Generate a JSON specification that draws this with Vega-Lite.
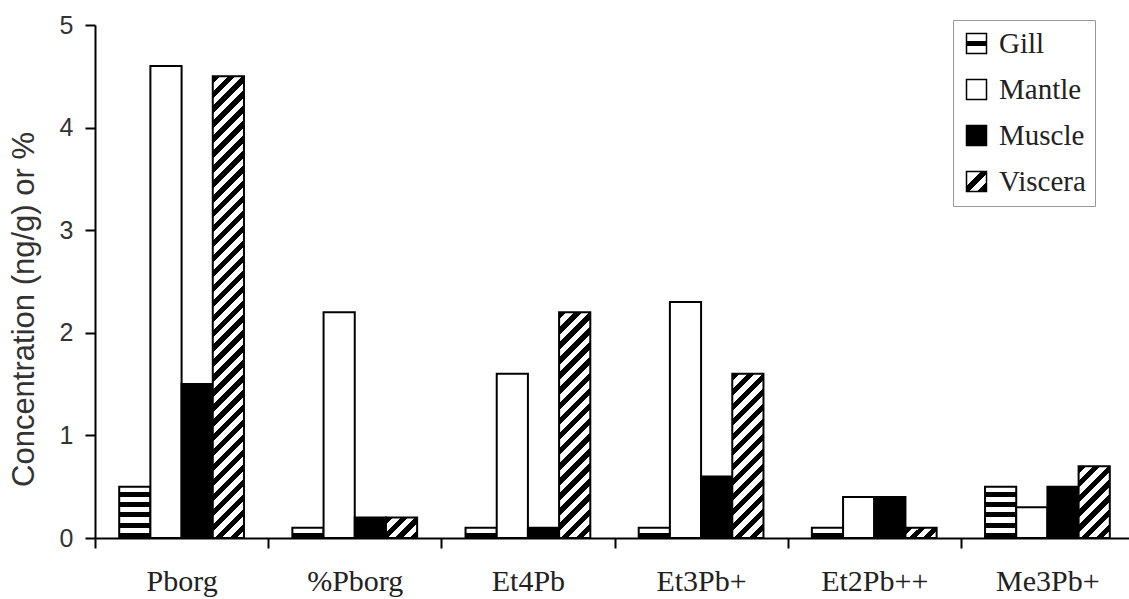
{
  "$schema": "https://vega.github.io/schema/vega-lite/v6.json",
  "width": 1034,
  "height": 513,
  "autosize": {"type": "none"},
  "padding": {"left": 95, "top": 25, "right": 0, "bottom": 61},
  "background": "white",
  "config": {"view": {"stroke": null}},
  "data": {
    "values": [
      {"compound": "Pborg", "tissue": "Gill", "value": 0.5},
      {"compound": "Pborg", "tissue": "Mantle", "value": 4.6},
      {"compound": "Pborg", "tissue": "Muscle", "value": 1.5},
      {"compound": "Pborg", "tissue": "Viscera", "value": 4.5},
      {"compound": "%Pborg", "tissue": "Gill", "value": 0.1},
      {"compound": "%Pborg", "tissue": "Mantle", "value": 2.2},
      {"compound": "%Pborg", "tissue": "Muscle", "value": 0.2},
      {"compound": "%Pborg", "tissue": "Viscera", "value": 0.2},
      {"compound": "Et4Pb", "tissue": "Gill", "value": 0.1},
      {"compound": "Et4Pb", "tissue": "Mantle", "value": 1.6},
      {"compound": "Et4Pb", "tissue": "Muscle", "value": 0.1},
      {"compound": "Et4Pb", "tissue": "Viscera", "value": 2.2},
      {"compound": "Et3Pb+", "tissue": "Gill", "value": 0.1},
      {"compound": "Et3Pb+", "tissue": "Mantle", "value": 2.3},
      {"compound": "Et3Pb+", "tissue": "Muscle", "value": 0.6},
      {"compound": "Et3Pb+", "tissue": "Viscera", "value": 1.6},
      {"compound": "Et2Pb++", "tissue": "Gill", "value": 0.1},
      {"compound": "Et2Pb++", "tissue": "Mantle", "value": 0.4},
      {"compound": "Et2Pb++", "tissue": "Muscle", "value": 0.4},
      {"compound": "Et2Pb++", "tissue": "Viscera", "value": 0.1},
      {"compound": "Me3Pb+", "tissue": "Gill", "value": 0.5},
      {"compound": "Me3Pb+", "tissue": "Mantle", "value": 0.3},
      {"compound": "Me3Pb+", "tissue": "Muscle", "value": 0.5},
      {"compound": "Me3Pb+", "tissue": "Viscera", "value": 0.7}
    ]
  },
  "mark": {"type": "bar", "stroke": "black", "strokeWidth": 2},
  "encoding": {
    "x": {
      "field": "compound",
      "type": "nominal",
      "sort": ["Pborg", "%Pborg", "Et4Pb", "Et3Pb+", "Et2Pb++", "Me3Pb+"],
      "scale": {"range": [0, 1039], "paddingInner": 0, "paddingOuter": 0},
      "axis": {
        "title": null,
        "labelAngle": 0,
        "labelFont": "Liberation Serif",
        "labelFontSize": 30,
        "labelColor": "#222",
        "labelPadding": 18,
        "tickBand": "extent",
        "tickSize": 10,
        "tickWidth": 2,
        "tickColor": "black",
        "domainColor": "black",
        "domainWidth": 2
      }
    },
    "xOffset": {
      "field": "tissue",
      "type": "nominal",
      "sort": ["Gill", "Mantle", "Muscle", "Viscera"],
      "scale": {"paddingInner": 0, "paddingOuter": 0.776}
    },
    "y": {
      "field": "value",
      "type": "quantitative",
      "scale": {"domain": [0, 5], "nice": false},
      "axis": {
        "title": "Concentration (ng/g) or %",
        "values": [0, 1, 2, 3, 4, 5],
        "grid": false,
        "tickSize": 10,
        "tickWidth": 2,
        "tickColor": "black",
        "domainColor": "black",
        "domainWidth": 2,
        "labelFont": "Liberation Sans",
        "labelFontSize": 25,
        "labelColor": "#333",
        "labelPadding": 12,
        "titleFont": "Liberation Sans",
        "titleFontSize": 31,
        "titleFontWeight": "normal",
        "titleColor": "#333",
        "titleX": -71,
        "titleY": 284,
        "titleAngle": -90,
        "titleAlign": "center",
        "titleBaseline": "middle"
      }
    },
    "fill": {
      "field": "tissue",
      "type": "nominal",
      "scale": {
        "domain": ["Gill", "Mantle", "Muscle", "Viscera"],
        "range": [
          {"expr": "{gradient: 'linear', x1: 0, y1: 0, x2: 0, y2: 1, stops: [{offset: 0, color: '#fff'}, {offset: 0.38, color: '#fff'}, {offset: 0.38, color: '#000'}, {offset: 0.62, color: '#000'}, {offset: 0.62, color: '#fff'}, {offset: 1, color: '#fff'}]}"},
          "#ffffff",
          "#000000",
          {"expr": "{gradient: 'linear', x1: 0, y1: 0, x2: 1, y2: 1, stops: [{offset: 0, color: '#fff'}, {offset: 0.35, color: '#fff'}, {offset: 0.35, color: '#000'}, {offset: 0.55, color: '#000'}, {offset: 0.55, color: '#fff'}, {offset: 0.75, color: '#fff'}, {offset: 0.75, color: '#000'}, {offset: 1, color: '#000'}]}"}
        ]
      },
      "legend": {
        "orient": "none",
        "legendX": 858,
        "legendY": -5,
        "title": null,
        "symbolType": "square",
        "symbolSize": 400,
        "labelFont": "Liberation Serif",
        "labelFontSize": 29,
        "labelColor": "#222",
        "labelOffset": 8,
        "strokeColor": "#999",
        "fillColor": "white",
        "padding": 9,
        "rowPadding": 16,
        "encode": {
          "symbols": {
            "stroke": {"value": "black"},
            "strokeWidth": {"value": 2}
          }
        }
      },
      "condition": [
        {"test": "datum.tissue === 'Gill' && datum.value > 0.3", "value": {"gradient": "linear", "x1": 0, "y1": 0, "x2": 0, "y2": 1, "stops": [
          {"offset": 0, "color": "#fff"}, {"offset": 0.1, "color": "#fff"}, {"offset": 0.1, "color": "#000"}, {"offset": 0.2, "color": "#000"},
          {"offset": 0.2, "color": "#fff"}, {"offset": 0.3, "color": "#fff"}, {"offset": 0.3, "color": "#000"}, {"offset": 0.4, "color": "#000"},
          {"offset": 0.4, "color": "#fff"}, {"offset": 0.5, "color": "#fff"}, {"offset": 0.5, "color": "#000"}, {"offset": 0.6, "color": "#000"},
          {"offset": 0.6, "color": "#fff"}, {"offset": 0.7, "color": "#fff"}, {"offset": 0.7, "color": "#000"}, {"offset": 0.8, "color": "#000"},
          {"offset": 0.8, "color": "#fff"}, {"offset": 0.9, "color": "#fff"}, {"offset": 0.9, "color": "#000"}, {"offset": 1, "color": "#000"}]}},
        {"test": "datum.tissue === 'Gill'", "value": {"gradient": "linear", "x1": 0, "y1": 0, "x2": 0, "y2": 1, "stops": [
          {"offset": 0, "color": "#fff"}, {"offset": 0.5, "color": "#fff"}, {"offset": 0.5, "color": "#000"}, {"offset": 1, "color": "#000"}]}},
        {"test": "datum.tissue === 'Viscera' && datum.value > 3", "value": {"gradient": "linear", "x1": 0, "y1": 0, "x2": 0.0718, "y2": 1.0627, "stops": [
          {"offset":0,"color":"#000"},
          {"offset":0.0152,"color":"#000"},{"offset":0.0152,"color":"#fff"},
          {"offset":0.0303,"color":"#fff"},{"offset":0.0303,"color":"#000"},
          {"offset":0.0455,"color":"#000"},{"offset":0.0455,"color":"#fff"},
          {"offset":0.0606,"color":"#fff"},{"offset":0.0606,"color":"#000"},
          {"offset":0.0758,"color":"#000"},{"offset":0.0758,"color":"#fff"},
          {"offset":0.0909,"color":"#fff"},{"offset":0.0909,"color":"#000"},
          {"offset":0.1061,"color":"#000"},{"offset":0.1061,"color":"#fff"},
          {"offset":0.1212,"color":"#fff"},{"offset":0.1212,"color":"#000"},
          {"offset":0.1364,"color":"#000"},{"offset":0.1364,"color":"#fff"},
          {"offset":0.1515,"color":"#fff"},{"offset":0.1515,"color":"#000"},
          {"offset":0.1667,"color":"#000"},{"offset":0.1667,"color":"#fff"},
          {"offset":0.1818,"color":"#fff"},{"offset":0.1818,"color":"#000"},
          {"offset":0.197,"color":"#000"},{"offset":0.197,"color":"#fff"},
          {"offset":0.2121,"color":"#fff"},{"offset":0.2121,"color":"#000"},
          {"offset":0.2273,"color":"#000"},{"offset":0.2273,"color":"#fff"},
          {"offset":0.2424,"color":"#fff"},{"offset":0.2424,"color":"#000"},
          {"offset":0.2576,"color":"#000"},{"offset":0.2576,"color":"#fff"},
          {"offset":0.2727,"color":"#fff"},{"offset":0.2727,"color":"#000"},
          {"offset":0.2879,"color":"#000"},{"offset":0.2879,"color":"#fff"},
          {"offset":0.303,"color":"#fff"},{"offset":0.303,"color":"#000"},
          {"offset":0.3182,"color":"#000"},{"offset":0.3182,"color":"#fff"},
          {"offset":0.3333,"color":"#fff"},{"offset":0.3333,"color":"#000"},
          {"offset":0.3485,"color":"#000"},{"offset":0.3485,"color":"#fff"},
          {"offset":0.3636,"color":"#fff"},{"offset":0.3636,"color":"#000"},
          {"offset":0.3788,"color":"#000"},{"offset":0.3788,"color":"#fff"},
          {"offset":0.3939,"color":"#fff"},{"offset":0.3939,"color":"#000"},
          {"offset":0.4091,"color":"#000"},{"offset":0.4091,"color":"#fff"},
          {"offset":0.4242,"color":"#fff"},{"offset":0.4242,"color":"#000"},
          {"offset":0.4394,"color":"#000"},{"offset":0.4394,"color":"#fff"},
          {"offset":0.4545,"color":"#fff"},{"offset":0.4545,"color":"#000"},
          {"offset":0.4697,"color":"#000"},{"offset":0.4697,"color":"#fff"},
          {"offset":0.4848,"color":"#fff"},{"offset":0.4848,"color":"#000"},
          {"offset":0.5,"color":"#000"},{"offset":0.5,"color":"#fff"},
          {"offset":0.5152,"color":"#fff"},{"offset":0.5152,"color":"#000"},
          {"offset":0.5303,"color":"#000"},{"offset":0.5303,"color":"#fff"},
          {"offset":0.5455,"color":"#fff"},{"offset":0.5455,"color":"#000"},
          {"offset":0.5606,"color":"#000"},{"offset":0.5606,"color":"#fff"},
          {"offset":0.5758,"color":"#fff"},{"offset":0.5758,"color":"#000"},
          {"offset":0.5909,"color":"#000"},{"offset":0.5909,"color":"#fff"},
          {"offset":0.6061,"color":"#fff"},{"offset":0.6061,"color":"#000"},
          {"offset":0.6212,"color":"#000"},{"offset":0.6212,"color":"#fff"},
          {"offset":0.6364,"color":"#fff"},{"offset":0.6364,"color":"#000"},
          {"offset":0.6515,"color":"#000"},{"offset":0.6515,"color":"#fff"},
          {"offset":0.6667,"color":"#fff"},{"offset":0.6667,"color":"#000"},
          {"offset":0.6818,"color":"#000"},{"offset":0.6818,"color":"#fff"},
          {"offset":0.697,"color":"#fff"},{"offset":0.697,"color":"#000"},
          {"offset":0.7121,"color":"#000"},{"offset":0.7121,"color":"#fff"},
          {"offset":0.7273,"color":"#fff"},{"offset":0.7273,"color":"#000"},
          {"offset":0.7424,"color":"#000"},{"offset":0.7424,"color":"#fff"},
          {"offset":0.7576,"color":"#fff"},{"offset":0.7576,"color":"#000"},
          {"offset":0.7727,"color":"#000"},{"offset":0.7727,"color":"#fff"},
          {"offset":0.7879,"color":"#fff"},{"offset":0.7879,"color":"#000"},
          {"offset":0.803,"color":"#000"},{"offset":0.803,"color":"#fff"},
          {"offset":0.8182,"color":"#fff"},{"offset":0.8182,"color":"#000"},
          {"offset":0.8333,"color":"#000"},{"offset":0.8333,"color":"#fff"},
          {"offset":0.8485,"color":"#fff"},{"offset":0.8485,"color":"#000"},
          {"offset":0.8636,"color":"#000"},{"offset":0.8636,"color":"#fff"},
          {"offset":0.8788,"color":"#fff"},{"offset":0.8788,"color":"#000"},
          {"offset":0.8939,"color":"#000"},{"offset":0.8939,"color":"#fff"},
          {"offset":0.9091,"color":"#fff"},{"offset":0.9091,"color":"#000"},
          {"offset":0.9242,"color":"#000"},{"offset":0.9242,"color":"#fff"},
          {"offset":0.9394,"color":"#fff"},{"offset":0.9394,"color":"#000"},
          {"offset":0.9545,"color":"#000"},{"offset":0.9545,"color":"#fff"},
          {"offset":0.9697,"color":"#fff"},{"offset":0.9697,"color":"#000"},
          {"offset":0.9848,"color":"#000"},{"offset":0.9848,"color":"#fff"},
          {"offset":1,"color":"#fff"}]}},
        {"test": "datum.tissue === 'Viscera' && datum.value > 1.9", "value": {"gradient": "linear", "x1": 0, "y1": 0, "x2": 0.1544, "y2": 1.1169, "stops": [
          {"offset":0,"color":"#000"},
          {"offset":0.0294,"color":"#000"},{"offset":0.0294,"color":"#fff"},
          {"offset":0.0588,"color":"#fff"},{"offset":0.0588,"color":"#000"},
          {"offset":0.0882,"color":"#000"},{"offset":0.0882,"color":"#fff"},
          {"offset":0.1176,"color":"#fff"},{"offset":0.1176,"color":"#000"},
          {"offset":0.1471,"color":"#000"},{"offset":0.1471,"color":"#fff"},
          {"offset":0.1765,"color":"#fff"},{"offset":0.1765,"color":"#000"},
          {"offset":0.2059,"color":"#000"},{"offset":0.2059,"color":"#fff"},
          {"offset":0.2353,"color":"#fff"},{"offset":0.2353,"color":"#000"},
          {"offset":0.2647,"color":"#000"},{"offset":0.2647,"color":"#fff"},
          {"offset":0.2941,"color":"#fff"},{"offset":0.2941,"color":"#000"},
          {"offset":0.3235,"color":"#000"},{"offset":0.3235,"color":"#fff"},
          {"offset":0.3529,"color":"#fff"},{"offset":0.3529,"color":"#000"},
          {"offset":0.3824,"color":"#000"},{"offset":0.3824,"color":"#fff"},
          {"offset":0.4118,"color":"#fff"},{"offset":0.4118,"color":"#000"},
          {"offset":0.4412,"color":"#000"},{"offset":0.4412,"color":"#fff"},
          {"offset":0.4706,"color":"#fff"},{"offset":0.4706,"color":"#000"},
          {"offset":0.5,"color":"#000"},{"offset":0.5,"color":"#fff"},
          {"offset":0.5294,"color":"#fff"},{"offset":0.5294,"color":"#000"},
          {"offset":0.5588,"color":"#000"},{"offset":0.5588,"color":"#fff"},
          {"offset":0.5882,"color":"#fff"},{"offset":0.5882,"color":"#000"},
          {"offset":0.6176,"color":"#000"},{"offset":0.6176,"color":"#fff"},
          {"offset":0.6471,"color":"#fff"},{"offset":0.6471,"color":"#000"},
          {"offset":0.6765,"color":"#000"},{"offset":0.6765,"color":"#fff"},
          {"offset":0.7059,"color":"#fff"},{"offset":0.7059,"color":"#000"},
          {"offset":0.7353,"color":"#000"},{"offset":0.7353,"color":"#fff"},
          {"offset":0.7647,"color":"#fff"},{"offset":0.7647,"color":"#000"},
          {"offset":0.7941,"color":"#000"},{"offset":0.7941,"color":"#fff"},
          {"offset":0.8235,"color":"#fff"},{"offset":0.8235,"color":"#000"},
          {"offset":0.8529,"color":"#000"},{"offset":0.8529,"color":"#fff"},
          {"offset":0.8824,"color":"#fff"},{"offset":0.8824,"color":"#000"},
          {"offset":0.9118,"color":"#000"},{"offset":0.9118,"color":"#fff"},
          {"offset":0.9412,"color":"#fff"},{"offset":0.9412,"color":"#000"},
          {"offset":0.9706,"color":"#000"},{"offset":0.9706,"color":"#fff"},
          {"offset":1,"color":"#fff"}]}},
        {"test": "datum.tissue === 'Viscera' && datum.value > 1", "value": {"gradient": "linear", "x1": 0, "y1": 0, "x2": 0.2182, "y2": 1.1485, "stops": [
          {"offset":0,"color":"#000"},
          {"offset":0.0385,"color":"#000"},{"offset":0.0385,"color":"#fff"},
          {"offset":0.0769,"color":"#fff"},{"offset":0.0769,"color":"#000"},
          {"offset":0.1154,"color":"#000"},{"offset":0.1154,"color":"#fff"},
          {"offset":0.1538,"color":"#fff"},{"offset":0.1538,"color":"#000"},
          {"offset":0.1923,"color":"#000"},{"offset":0.1923,"color":"#fff"},
          {"offset":0.2308,"color":"#fff"},{"offset":0.2308,"color":"#000"},
          {"offset":0.2692,"color":"#000"},{"offset":0.2692,"color":"#fff"},
          {"offset":0.3077,"color":"#fff"},{"offset":0.3077,"color":"#000"},
          {"offset":0.3462,"color":"#000"},{"offset":0.3462,"color":"#fff"},
          {"offset":0.3846,"color":"#fff"},{"offset":0.3846,"color":"#000"},
          {"offset":0.4231,"color":"#000"},{"offset":0.4231,"color":"#fff"},
          {"offset":0.4615,"color":"#fff"},{"offset":0.4615,"color":"#000"},
          {"offset":0.5,"color":"#000"},{"offset":0.5,"color":"#fff"},
          {"offset":0.5385,"color":"#fff"},{"offset":0.5385,"color":"#000"},
          {"offset":0.5769,"color":"#000"},{"offset":0.5769,"color":"#fff"},
          {"offset":0.6154,"color":"#fff"},{"offset":0.6154,"color":"#000"},
          {"offset":0.6538,"color":"#000"},{"offset":0.6538,"color":"#fff"},
          {"offset":0.6923,"color":"#fff"},{"offset":0.6923,"color":"#000"},
          {"offset":0.7308,"color":"#000"},{"offset":0.7308,"color":"#fff"},
          {"offset":0.7692,"color":"#fff"},{"offset":0.7692,"color":"#000"},
          {"offset":0.8077,"color":"#000"},{"offset":0.8077,"color":"#fff"},
          {"offset":0.8462,"color":"#fff"},{"offset":0.8462,"color":"#000"},
          {"offset":0.8846,"color":"#000"},{"offset":0.8846,"color":"#fff"},
          {"offset":0.9231,"color":"#fff"},{"offset":0.9231,"color":"#000"},
          {"offset":0.9615,"color":"#000"},{"offset":0.9615,"color":"#fff"},
          {"offset":1,"color":"#fff"}]}},
        {"test": "datum.tissue === 'Viscera' && datum.value > 0.5", "value": {"gradient": "linear", "x1": 0, "y1": 0, "x2": 0.5244, "y2": 1.2067, "stops": [
          {"offset":0,"color":"#000"},
          {"offset":0.0714,"color":"#000"},{"offset":0.0714,"color":"#fff"},
          {"offset":0.1429,"color":"#fff"},{"offset":0.1429,"color":"#000"},
          {"offset":0.2143,"color":"#000"},{"offset":0.2143,"color":"#fff"},
          {"offset":0.2857,"color":"#fff"},{"offset":0.2857,"color":"#000"},
          {"offset":0.3571,"color":"#000"},{"offset":0.3571,"color":"#fff"},
          {"offset":0.4286,"color":"#fff"},{"offset":0.4286,"color":"#000"},
          {"offset":0.5,"color":"#000"},{"offset":0.5,"color":"#fff"},
          {"offset":0.5714,"color":"#fff"},{"offset":0.5714,"color":"#000"},
          {"offset":0.6429,"color":"#000"},{"offset":0.6429,"color":"#fff"},
          {"offset":0.7143,"color":"#fff"},{"offset":0.7143,"color":"#000"},
          {"offset":0.7857,"color":"#000"},{"offset":0.7857,"color":"#fff"},
          {"offset":0.8571,"color":"#fff"},{"offset":0.8571,"color":"#000"},
          {"offset":0.9286,"color":"#000"},{"offset":0.9286,"color":"#fff"},
          {"offset":1,"color":"#fff"}]}},
        {"test": "datum.tissue === 'Viscera' && datum.value > 0.15", "value": {"gradient": "linear", "x1": 0, "y1": 0, "x2": 1.1574, "y2": 0.7605, "stops": [
          {"offset":0,"color":"#000"},
          {"offset":0.1429,"color":"#000"},{"offset":0.1429,"color":"#fff"},
          {"offset":0.2857,"color":"#fff"},{"offset":0.2857,"color":"#000"},
          {"offset":0.4286,"color":"#000"},{"offset":0.4286,"color":"#fff"},
          {"offset":0.5714,"color":"#fff"},{"offset":0.5714,"color":"#000"},
          {"offset":0.7143,"color":"#000"},{"offset":0.7143,"color":"#fff"},
          {"offset":0.8571,"color":"#fff"},{"offset":0.8571,"color":"#000"},
          {"offset":1,"color":"#000"}]}},
        {"test": "datum.tissue === 'Viscera'", "value": {"gradient": "linear", "x1": 0, "y1": 0, "x2": 1.1994, "y2": 0.396, "stops": [
          {"offset":0,"color":"#000"},
          {"offset":0.1667,"color":"#000"},{"offset":0.1667,"color":"#fff"},
          {"offset":0.3333,"color":"#fff"},{"offset":0.3333,"color":"#000"},
          {"offset":0.5,"color":"#000"},{"offset":0.5,"color":"#fff"},
          {"offset":0.6667,"color":"#fff"},{"offset":0.6667,"color":"#000"},
          {"offset":0.8333,"color":"#000"},{"offset":0.8333,"color":"#fff"},
          {"offset":1,"color":"#fff"}]}}
      ]
    }
  }
}
